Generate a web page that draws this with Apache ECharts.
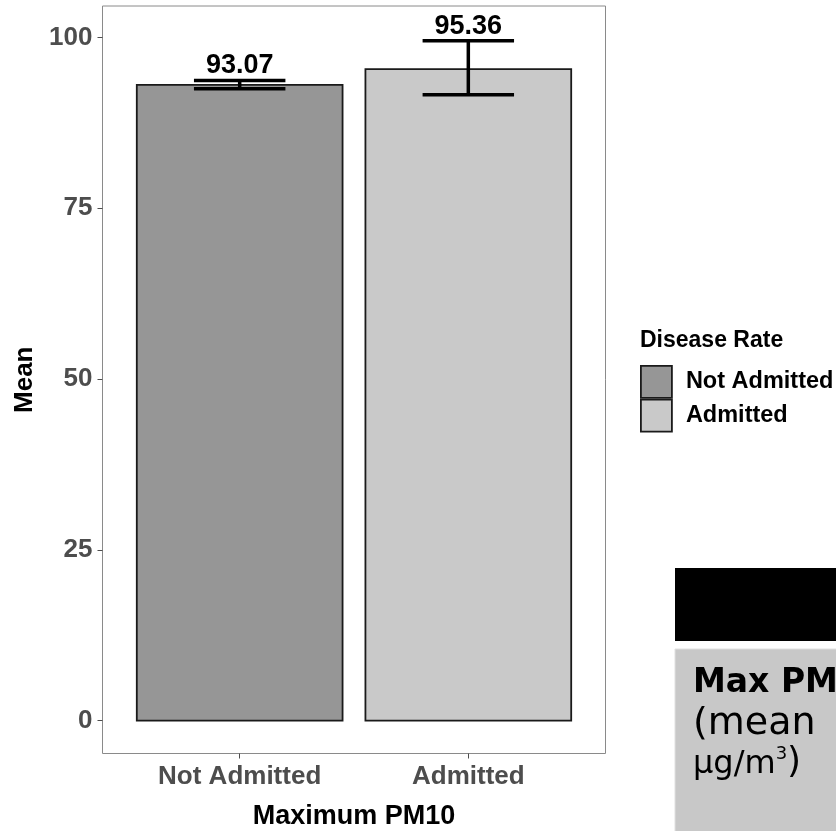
<!DOCTYPE html>
<html>
<head>
<meta charset="utf-8">
<script src="https://cdn.jsdelivr.net/npm/echarts@6/dist/echarts.min.js"></script>
<style>
  html, body { margin: 0; padding: 0; background: #fff; }
  #chart { width: 836px; height: 831px; }
</style>
</head>
<body>
<div id="chart"></div>
<script>
const categories = ['Not Admitted', 'Admitted'];
const means = [93.07, 95.36];
const errLow = [92.5, 91.6];
const errHigh = [93.7, 99.5];
const yTicks = [0, 25, 50, 75, 100];
const barColors = ['#969696', '#c9c9c9'];

const FONT = 'Liberation Sans';
const chart = echarts.init(document.getElementById('chart'));

// one custom series per group so the legend gets an entry each
let barSeries = [];
for (let i = 0; i < categories.length; i++) {
    barSeries.push({
        name: categories[i],
        type: 'custom',
        data: [[i + 1, means[i]]],
        itemStyle: { color: barColors[i] },
        renderItem: function (params, api) {
            const x = api.value(0);
            const p0 = api.coord([x - 0.45, api.value(1)]);
            const p1 = api.coord([x + 0.45, 0]);
            return {
                type: 'rect',
                shape: { x: p0[0], y: p0[1], width: p1[0] - p0[0], height: p1[1] - p0[1] },
                style: { fill: barColors[i], stroke: '#1a1a1a', lineWidth: 1.8 }
            };
        }
    });
}

let errData = [];
for (let i = 0; i < categories.length; i++) {
    errData.push([i + 1, errLow[i], errHigh[i], means[i]]);
}

const errSeries = {
    name: 'err',
    type: 'custom',
    data: errData,
    z: 5,
    renderItem: function (params, api) {
        const x = api.value(0);
        const lo = api.coord([x, api.value(1)]);
        const hi = api.coord([x, api.value(2)]);
        const l = api.coord([x - 0.2, 0])[0];
        const r = api.coord([x + 0.2, 0])[0];
        const line = { stroke: '#000', lineWidth: 3.5 };
        return {
            type: 'group',
            children: [
                { type: 'line', shape: { x1: lo[0], y1: lo[1], x2: hi[0], y2: hi[1] }, style: line },
                { type: 'line', shape: { x1: l, y1: lo[1], x2: r, y2: lo[1] }, style: line },
                { type: 'line', shape: { x1: l, y1: hi[1], x2: r, y2: hi[1] }, style: line },
                {
                    type: 'text',
                    x: hi[0], y: hi[1] - 1,
                    style: {
                        text: api.value(3).toFixed(2),
                        align: 'center', verticalAlign: 'bottom',
                        font: 'bold 27px "' + FONT + '"', fill: '#000'
                    }
                }
            ]
        };
    }
};

const options = {
    animation: false,
    backgroundColor: '#fff',
    title: {
        text: 'Disease Rate',
        left: 640, top: 329, padding: 0,
        textStyle: { fontFamily: FONT, fontSize: 23, fontWeight: 'bold', color: '#000' }
    },
    legend: {
        orient: 'vertical',
        left: 640, top: 365,
        padding: 0,
        itemGap: 0,
        itemWidth: 31, itemHeight: 32,
        selectedMode: false,
        data: categories.map((c, i) => ({
            name: c, icon: 'rect',
            itemStyle: { color: barColors[i], borderColor: '#1a1a1a', borderWidth: 1.8 }
        })),
        textStyle: { fontFamily: FONT, fontSize: 23.5, fontWeight: 'bold', color: '#000', padding: [0, 0, 0, 9] }
    },
    grid: {
        left: 102.5, right: 230.5, top: 6, bottom: 77.5,
        outerBoundsMode: 'none',
        containLabel: false,
        show: true, borderColor: '#8a8a8a', borderWidth: 1, backgroundColor: '#fff'
    },
    xAxis: {
        type: 'value',
        min: 0.4, max: 2.6,
        name: 'Maximum PM10',
        nameLocation: 'middle',
        nameGap: 50,
        nameTextStyle: { fontFamily: FONT, fontSize: 27, fontWeight: 'bold', color: '#000' },
        axisLine: { show: false, onZero: false },
        splitLine: { show: false },
        axisTick: { show: true, customValues: [1, 2], length: 5, lineStyle: { color: '#4d4d4d', width: 1 } },
        axisLabel: {
            customValues: [1, 2],
            formatter: v => categories[Math.round(v) - 1],
            fontFamily: FONT, fontSize: 26, fontWeight: 'bold', color: '#4d4d4d', margin: 10
        }
    },
    yAxis: {
        type: 'value',
        min: -4.8, max: 104.6,
        name: 'Mean',
        nameLocation: 'middle',
        nameRotate: 90,
        nameGap: 64,
        nameTextStyle: { fontFamily: FONT, fontSize: 26, fontWeight: 'bold', color: '#000' },
        axisLine: { show: false, onZero: false },
        splitLine: { show: false },
        axisTick: { show: true, customValues: yTicks, length: 5, lineStyle: { color: '#4d4d4d', width: 1 } },
        axisLabel: {
            customValues: yTicks,
            fontFamily: FONT, fontSize: 26, fontWeight: 'bold', color: '#4d4d4d', margin: 10
        }
    },
    graphic: [
        { type: 'rect', shape: { x: 675, y: 568, width: 170, height: 73 }, style: { fill: '#000' } },
        { type: 'rect', shape: { x: 675, y: 649, width: 170, height: 190 }, style: { fill: '#c8c8c8', stroke: '#e0e0e0', lineWidth: 1 } },
        {
            type: 'text', left: 693, top: 667,
            style: { text: 'Max PM10', font: 'bold 33px "DejaVu Sans"', fill: '#000' }
        },
        {
            type: 'text', left: 693, top: 705,
            style: { text: '(mean', font: '38px "DejaVu Sans"', fill: '#000' }
        },
        {
            type: 'text', left: 693, top: 745,
            style: {
                text: '{a|μg/m}{b|3}{c|)}',
                rich: {
                    a: { font: '32px "DejaVu Sans"', fill: '#000', verticalAlign: 'bottom' },
                    b: { font: '18px "DejaVu Sans"', fill: '#000', verticalAlign: 'top' },
                    c: { font: '36px "DejaVu Sans"', fill: '#000' }
                }
            }
        }
    ],
    series: barSeries.concat([errSeries])
};

chart.setOption(options);
</script>
</body>
</html>
